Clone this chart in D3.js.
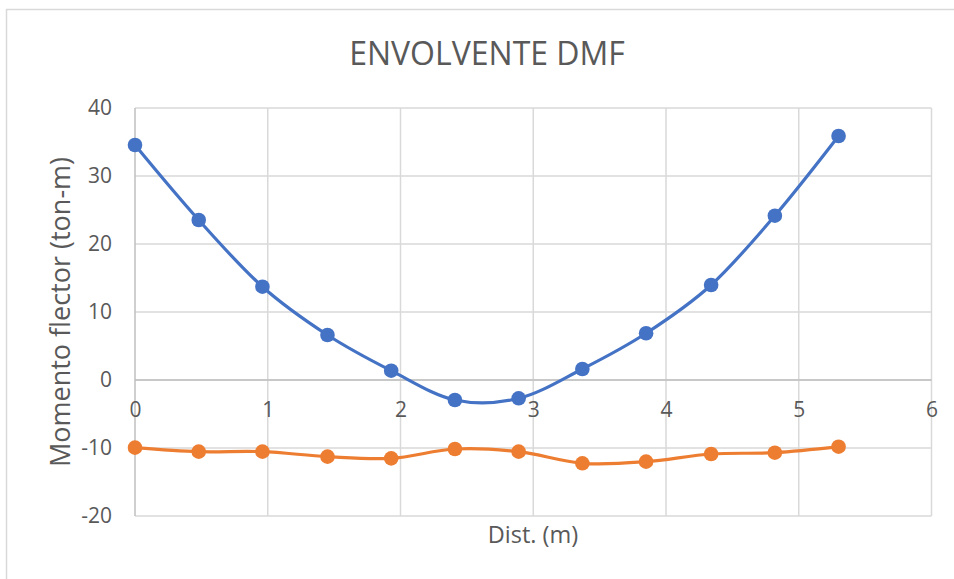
<!DOCTYPE html>
<html>
<head>
<meta charset="utf-8">
<script src="https://cdn.jsdelivr.net/npm/d3@7"></script>
<style>
  html, body { margin: 0; padding: 0; background: #fff; }
  svg { display: block; font-family: "Open Sans", sans-serif; }
</style>
</head>
<body>
<svg id="chart" width="954" height="579"></svg>
<script>
// Distance along the beam (m)
const distances = [0, 0.48, 0.96, 1.45, 1.93, 2.41, 2.89, 3.37, 3.85, 4.34, 4.82, 5.30];
// Envelope of bending moment (ton-m)
const momentMax = [34.56, 23.53, 13.72, 6.62, 1.37, -2.94, -2.69, 1.62, 6.87, 13.97, 24.16, 35.88];
const momentMin = [-9.95, -10.54, -10.54, -11.27, -11.52, -10.15, -10.54, -12.25, -12.01, -10.88, -10.69, -9.81];
const xTicks = [0, 1, 2, 3, 4, 5, 6];
const yTicks = [-20, -10, 0, 10, 20, 30, 40];
const seriesColors = ["#4472C4", "#ED7D31"];

const svg = d3.select("#chart");
const textColor = "#595959";
const fmt = d => String(d);

// Outer chart frame
svg.append("rect")
  .attr("x", 6.5).attr("y", 9.5)
  .attr("width", 960).attr("height", 600)
  .attr("fill", "#fff").attr("stroke", "#d9d9d9").attr("stroke-width", 1.5);

const plot = { left: 135, right: 931.5, top: 108, bottom: 516 };

const x = d3.scaleLinear().domain([0, 6]).range([plot.left, plot.right]);
const y = d3.scaleLinear().domain([-20, 40]).range([plot.bottom, plot.top]);

// Gridlines
const grid = svg.append("g");
grid.selectAll(".hg").data(yTicks).join("line")
  .attr("x1", plot.left).attr("x2", plot.right)
  .attr("y1", d => y(d)).attr("y2", d => y(d))
  .attr("stroke", "#d9d9d9").attr("stroke-width", 1.5);
grid.selectAll(".vg").data(xTicks.filter(d => d > 0)).join("line")
  .attr("x1", d => x(d)).attr("x2", d => x(d))
  .attr("y1", plot.top).attr("y2", plot.bottom)
  .attr("stroke", "#d9d9d9").attr("stroke-width", 1.5);

// Axis lines: vertical at x = 0, horizontal at y = 0
svg.append("line")
  .attr("x1", x(0)).attr("x2", x(0)).attr("y1", plot.top).attr("y2", plot.bottom)
  .attr("stroke", "#bfbfbf").attr("stroke-width", 1.5);
svg.append("line")
  .attr("x1", plot.left).attr("x2", plot.right).attr("y1", y(0)).attr("y2", y(0))
  .attr("stroke", "#bfbfbf").attr("stroke-width", 1.5);

// Y tick labels
const yAxis = d3.axisLeft(y).tickValues(yTicks).tickFormat(fmt).tickSize(0).tickPadding(23);
svg.append("g").attr("transform", `translate(${plot.left},0)`).call(yAxis)
  .call(g => g.select(".domain").remove())
  .call(g => g.selectAll("text").attr("fill", textColor).style("font-size", "21px")
    .style("font-family", "'Open Sans', sans-serif"));

// X tick labels, hanging below the zero line
const xAxis = d3.axisBottom(x).tickValues(xTicks).tickFormat(fmt).tickSize(0).tickPadding(22);
svg.append("g").attr("transform", `translate(0,${y(0)})`).call(xAxis)
  .call(g => g.select(".domain").remove())
  .call(g => g.selectAll("text").attr("fill", textColor).style("font-size", "21px")
    .style("font-family", "'Open Sans', sans-serif"));

// Series
const curve = d3.curveCatmullRom.alpha(0);
[momentMax, momentMin].forEach((vals, i) => {
  const pts = distances.map((d, k) => [d, vals[k]]);
  const line = d3.line().x(p => x(p[0])).y(p => y(p[1])).curve(curve);
  svg.append("path").datum(pts)
    .attr("d", line).attr("fill", "none")
    .attr("stroke", seriesColors[i]).attr("stroke-width", 3.2)
    .attr("stroke-linecap", "round");
  svg.append("g").selectAll("circle").data(pts).join("circle")
    .attr("cx", p => x(p[0])).attr("cy", p => y(p[1])).attr("r", 7.3)
    .attr("fill", seriesColors[i]);
});

// Title
svg.append("text")
  .attr("x", 487).attr("y", 65).attr("text-anchor", "middle")
  .attr("fill", textColor).style("font-size", "32px")
  .text("ENVOLVENTE DMF");

// Axis titles
svg.append("text")
  .attr("x", 533).attr("y", 543).attr("text-anchor", "middle")
  .attr("fill", textColor).style("font-size", "23.5px")
  .text("Dist. (m)");
svg.append("text")
  .attr("transform", "translate(70,312) rotate(-90)")
  .attr("text-anchor", "middle")
  .attr("fill", textColor).style("font-size", "27px")
  .text("Momento flector (ton-m)");
</script>
</body>
</html>
